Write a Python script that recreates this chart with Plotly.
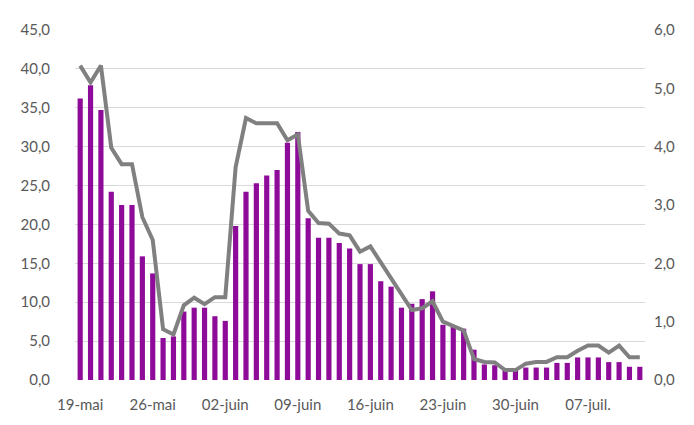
import plotly.graph_objects as go

dates = ["19-mai", "20-mai", "21-mai", "22-mai", "23-mai", "24-mai", "25-mai",
         "26-mai", "27-mai", "28-mai", "29-mai", "30-mai", "31-mai", "01-juin",
         "02-juin", "03-juin", "04-juin", "05-juin", "06-juin", "07-juin", "08-juin",
         "09-juin", "10-juin", "11-juin", "12-juin", "13-juin", "14-juin", "15-juin",
         "16-juin", "17-juin", "18-juin", "19-juin", "20-juin", "21-juin", "22-juin",
         "23-juin", "24-juin", "25-juin", "26-juin", "27-juin", "28-juin", "29-juin",
         "30-juin", "01-juil.", "02-juil.", "03-juil.", "04-juil.", "05-juil.", "06-juil.",
         "07-juil.", "08-juil.", "09-juil.", "10-juil.", "11-juil.", "12-juil."]

bars = [36.2, 37.9, 34.7, 24.2, 22.5, 22.5, 15.9, 13.7, 5.4, 5.6,
        8.8, 9.3, 9.3, 8.2, 7.6, 19.8, 24.2, 25.3, 26.3, 27.0,
        30.5, 31.9, 20.8, 18.3, 18.3, 17.6, 16.9, 14.9, 14.9, 12.7,
        12.0, 9.3, 9.8, 10.4, 11.4, 7.1, 7.0, 6.6, 3.9, 2.0,
        1.9, 1.5, 1.5, 1.6, 1.6, 1.6, 2.2, 2.2, 2.9, 2.9,
        2.9, 2.3, 2.3, 1.7, 1.7]

line = [5.39, 5.10, 5.39, 3.98, 3.70, 3.70, 2.79, 2.40, 0.87, 0.78,
        1.28, 1.41, 1.30, 1.42, 1.42, 3.65, 4.49, 4.40, 4.40, 4.40,
        4.11, 4.21, 2.90, 2.69, 2.68, 2.51, 2.48, 2.20, 2.29, 2.01,
        1.73, 1.45, 1.20, 1.23, 1.35, 1.00, 0.92, 0.85, 0.36, 0.31,
        0.30, 0.17, 0.17, 0.28, 0.31, 0.31, 0.39, 0.39, 0.50, 0.59,
        0.59, 0.47, 0.59, 0.39, 0.39]

tick_labels = ["19-mai", "26-mai", "02-juin", "09-juin", "16-juin", "23-juin",
               "30-juin", "07-juil."]

left_ticks = [0, 5, 10, 15, 20, 25, 30, 35, 40, 45]
right_ticks = [0, 1, 2, 3, 4, 5, 6]

font_color = "#595959"
font_family = "Lato, 'Open Sans', sans-serif"

fig = go.Figure()
fig.add_trace(go.Bar(x=dates, y=bars, marker_color="#8E0A98",
                     marker_line_width=0, yaxis="y", name="bars"))
fig.add_trace(go.Scatter(x=dates, y=line, mode="lines",
                         line=dict(color="#808080", width=4),
                         yaxis="y2", name="line"))

# the page body adds an 8px offset, so the figure is 8px smaller on each side
fig.update_layout(
    width=686, height=417,
    margin=dict(l=64, r=49, t=18, b=40),
    paper_bgcolor="white", plot_bgcolor="white",
    separators=", ",
    showlegend=False,
    bargap=0.5,
    font=dict(family=font_family, size=15, color=font_color),
    xaxis=dict(
        type="category",
        tickmode="array", tickvals=tick_labels, ticktext=tick_labels,
        showgrid=False, showline=False, zeroline=False,
        ticks="", ticklabelstandoff=14,
        tickfont=dict(size=15, color=font_color),
        range=[-0.5, len(dates) - 0.5],
    ),
    yaxis=dict(
        range=[0, 45], tickvals=left_ticks, tickformat=".1f",
        showgrid=True, gridcolor="#D9D9D9", gridwidth=1,
        zeroline=False, showline=False, ticks="",
        ticklabelstandoff=24,
        tickfont=dict(size=15, color=font_color),
    ),
    yaxis2=dict(
        range=[0, 6], tickvals=right_ticks, tickformat=".1f",
        overlaying="y", side="right",
        showgrid=False, zeroline=False, showline=False, ticks="",
        ticklabelstandoff=8,
        tickfont=dict(size=15, color=font_color),
    ),
)

fig.write_html("out.html")
